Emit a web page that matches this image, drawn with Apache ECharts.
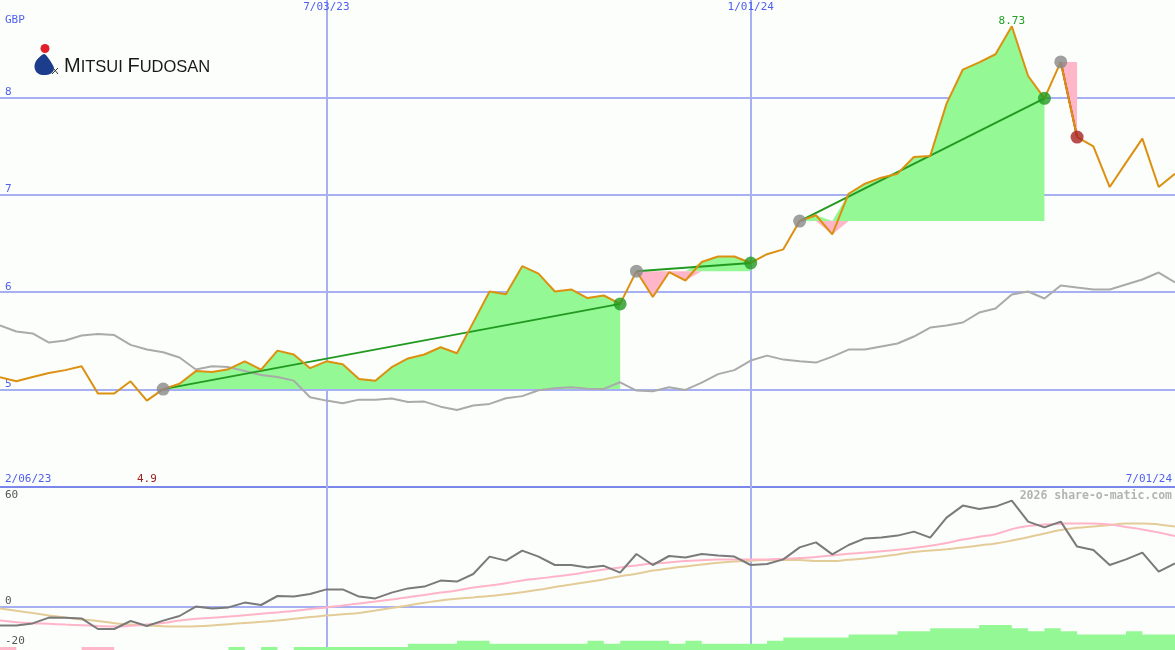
<!DOCTYPE html>
<html><head><meta charset="utf-8">
<script src="https://cdn.jsdelivr.net/npm/echarts@6/dist/echarts.min.js"></script>
<style>html,body{margin:0;padding:0;background:#fcfefc}#c{width:1175px;height:650px}</style>
</head><body><div id="c"></div>
<script>
// ---- data (weekly, Mondays) ----
const startDate = '2023-02-13';
const price = [5.126,5.085,5.13,5.17,5.20,5.24,4.96,4.96,5.085,4.887,
  5.005,5.06,5.19,5.18,5.21,5.29,5.205,5.40,5.36,5.22,
  5.29,5.26,5.11,5.09,5.23,5.32,5.36,5.435,5.373,5.69,
  6.007,5.98,6.267,6.19,6.007,6.028,5.94,5.966,5.88,6.216,
  5.95,6.205,6.12,6.31,6.367,6.367,6.30,6.39,6.44,6.73,
  6.79,6.593,7.011,7.114,7.176,7.217,7.388,7.398,7.936,8.286,
  8.36,8.443,8.73,8.22,7.99,8.364,7.593,7.497,7.08,7.33,
  7.577,7.08,7.217];
const relative = [5.658,5.596,5.576,5.483,5.504,5.555,5.572,5.56,5.459,5.411,
  5.383,5.329,5.206,5.24,5.231,5.19,5.149,5.13,5.092,4.921,
  4.887,4.859,4.897,4.897,4.908,4.872,4.877,4.825,4.791,4.836,
  4.853,4.911,4.933,4.993,5.015,5.024,5.01,5.007,5.075,4.99,
  4.983,5.024,4.997,5.072,5.159,5.2,5.298,5.349,5.308,5.291,
  5.277,5.339,5.411,5.411,5.442,5.473,5.545,5.637,5.658,5.689,
  5.791,5.832,5.976,6.007,5.935,6.069,6.048,6.028,6.028,6.079,
  6.13,6.202,6.1];
const oscillator = [-9.3,-9.3,-8.2,-5.3,-5.4,-5.7,-11,-11,-7,-9.5,
  -6.8,-4.5,0.2,-0.7,-0.2,2.2,1,5.5,5.2,6.5,
  8.8,8.8,5.2,4.3,7.2,9.3,10.2,13.2,12.7,16.5,
  25.2,23.2,28.2,25.2,21,21,19.8,20.6,17.2,26.5,
  21,25.5,24.7,26.5,25.7,25.2,21,21.5,23.8,29.8,
  32.3,26.3,31,34.3,34.8,35.7,37.7,34.7,44.7,50.7,
  49,50.2,53.2,42.7,39.8,42.7,30.2,28.5,21,23.8,
  27.2,17.7,21.8];
const signalFast = [-6.8,-7.6,-8.1,-8.4,-8.8,-9.1,-9.5,-9.8,-9.4,-8.7,
  -8.0,-6.8,-5.9,-5.4,-4.8,-4.1,-3.4,-2.7,-2.0,-1.0,
  -0.2,0.8,1.8,2.7,3.7,4.9,6.0,7.2,8.3,9.8,
  10.7,11.9,13.3,14.2,15.2,16.2,17.5,18.7,19.8,20.8,
  21.7,22.3,23.0,23.4,23.7,23.8,23.8,23.8,24.1,24.5,
  25.0,25.8,26.6,27.2,27.9,28.6,29.5,30.6,32.0,33.7,
  35.1,36.4,38.9,40.5,41.2,41.6,41.8,41.7,41.3,40.0,
  38.8,37.3,35.5];
const signalSlow = [-0.7,-1.9,-3.0,-4.2,-5.3,-6.2,-7.0,-8.1,-8.7,-9.3,
  -9.6,-9.8,-9.6,-9.2,-8.6,-8.0,-7.4,-6.7,-5.9,-5.0,
  -4.3,-3.6,-3.0,-1.8,-0.5,0.8,2.1,3.3,4.1,4.8,
  5.5,6.4,7.4,8.6,10.0,11.2,12.5,13.8,15.4,16.6,
  18.2,19.3,20.3,21.2,22.1,22.7,23.1,23.5,23.5,23.5,
  23.0,23.0,23.6,24.3,25.2,26.3,27.5,28.2,28.9,29.7,
  30.8,31.8,33.2,34.9,36.8,38.5,39.6,40.3,41.0,41.8,
  41.8,41.3,40.2];
const histogram = [-1,0,0,0,0,-1,-1,0,0,0,
  0,0,0,0,1,0,1,0,1,1,
  1,1,1,1,1,2,2,2,3,3,
  2,2,2,2,2,2,3,2,3,3,
  3,2,3,2,2,2,2,3,4,4,
  4,4,5,5,5,6,6,7,7,7,
  8,8,7,6,7,6,5,5,5,6,
  5,5,5];
const tradeEntry = [10, 39, 49, 65];
const tradeExit  = [38, 46, 64, 66];
const topTicks = ['7/03/23', '1/01/24'];
const rangeStartLabel = '2/06/23';
const priceTicks = [5, 6, 7, 8];
const oscTicks = [60, 0, -20];
const currency = 'GBP';
const brandBig = ['M', 'F'];
const brandSmall = ['ITSUI ', 'UDOSAN'];
const watermark = '2026 share-o-matic.com';

// ---- derived ----
const t0 = Date.parse(startDate + 'T00:00:00Z');
const weeks = price.map((_, i) => {
  const d = new Date(t0 + i * 7 * 86400000);
  return (d.getUTCMonth() + 1) + '/' + String(d.getUTCDate()).padStart(2, '0') + '/' + String(d.getUTCFullYear()).slice(2);
});
const last = price.length - 1;
let minIdx = 0;
price.forEach((p, i) => { if (p < price[minIdx]) minIdx = i; });

const BLUE = '#5060ee', GRID = '#a6b0f2', SEP = '#7a86ea';
const GREEN_FILL = '#94f894', PINK_FILL = '#ffb6c8';
const ORANGE = '#dc9010', GREY = '#aaaaaa';
const FONT = 'DejaVu Sans Mono';
const FS = 11;

const series = [];
tradeEntry.forEach((en, k) => {
  const ex = tradeExit[k], e = price[en];
  const inT = i => i >= en && i <= ex;
  const common = {type: 'line', xAxisIndex: 0, yAxisIndex: 0, symbol: 'none', silent: true, lineStyle: {width: 0}, z: 1};
  series.push(Object.assign({}, common, {stack: 'g' + k, data: price.map((p, i) => inT(i) ? e : null)}));
  series.push(Object.assign({}, common, {stack: 'g' + k, data: price.map((p, i) => inT(i) ? Math.max(p - e, 0) : null), areaStyle: {color: GREEN_FILL, opacity: 1}}));
  series.push(Object.assign({}, common, {stack: 'p' + k, data: price.map((p, i) => inT(i) ? Math.min(p, e) : null)}));
  series.push(Object.assign({}, common, {stack: 'p' + k, data: price.map((p, i) => inT(i) ? e - Math.min(p, e) : null), areaStyle: {color: PINK_FILL, opacity: 1}}));
});
series.push({type: 'line', xAxisIndex: 0, yAxisIndex: 0, data: relative, symbol: 'none', lineStyle: {color: GREY, width: 2}, z: 2});
tradeEntry.forEach((en, k) => {
  const ex = tradeExit[k];
  const win = price[ex] >= price[en];
  series.push({type: 'line', xAxisIndex: 0, yAxisIndex: 0, symbol: 'none',
    data: [[en, price[en]], [ex, price[ex]]],
    lineStyle: {color: win ? '#229a22' : '#a82222', width: 2}, z: 3});
});
series.push({type: 'line', xAxisIndex: 0, yAxisIndex: 0, data: price, symbol: 'none',
  lineStyle: {color: ORANGE, width: 2}, z: 4,
  markPoint: {symbol: 'circle', symbolSize: 1, itemStyle: {color: 'rgba(0,0,0,0)'},
    data: [{type: 'max'}],
    label: {show: true, position: 'top', distance: -1, color: '#22a022', fontFamily: FONT, fontSize: FS,
      formatter: p => Number(p.value).toFixed(2)}}});
series.push({type: 'scatter', xAxisIndex: 0, yAxisIndex: 0, symbolSize: 13, z: 5,
  itemStyle: {color: '#888888'}, data: tradeEntry.map(i => [i, price[i]])});
series.push({type: 'scatter', xAxisIndex: 0, yAxisIndex: 0, symbolSize: 13, z: 5,
  data: tradeExit.map((i, k) => ({value: [i, price[i]],
    itemStyle: {color: price[i] >= price[tradeEntry[k]] ? '#229a22' : '#a82222'}}))});
// lower panel
series.push({type: 'line', xAxisIndex: 1, yAxisIndex: 1, data: signalSlow, smooth: true, symbol: 'none', lineStyle: {color: '#e4cc98', width: 2}, z: 2});
series.push({type: 'line', xAxisIndex: 1, yAxisIndex: 1, data: signalFast, smooth: true, symbol: 'none', lineStyle: {color: '#ffb4c8', width: 2}, z: 2});
series.push({type: 'line', xAxisIndex: 1, yAxisIndex: 1, data: oscillator, symbol: 'none', lineStyle: {color: '#7a7a7a', width: 2}, z: 3});
series.push({type: 'line', xAxisIndex: 2, yAxisIndex: 2, step: 'end', symbol: 'none', lineStyle: {width: 0}, z: 6,
  data: histogram.map(v => Math.max(v, 0)), areaStyle: {color: GREEN_FILL, opacity: 1}});
series.push({type: 'line', xAxisIndex: 2, yAxisIndex: 2, step: 'end', symbol: 'none', lineStyle: {width: 0}, z: 6,
  data: histogram.map(v => Math.max(-v, 0)), areaStyle: {color: PINK_FILL, opacity: 1}});

const vLines = {show: true, interval: i => topTicks.includes(weeks[i]), lineStyle: {color: GRID, width: 2}};

const option = {
  backgroundColor: '#fcfefc',
  animation: false,
  textStyle: {fontFamily: FONT},
  grid: [
    {left: 0, right: 0, top: 0, height: 487},
    {left: 0, right: 0, top: 487, height: 160},
    {left: 0, right: 0, top: 600, height: 50}
  ],
  xAxis: [
    {gridIndex: 0, type: 'category', data: weeks, boundaryGap: false, position: 'top',
      axisLine: {show: false}, axisTick: {show: false}, splitLine: vLines,
      axisLabel: {inside: true, margin: 2, color: BLUE, fontSize: FS, fontFamily: FONT,
        interval: i => topTicks.includes(weeks[i])}},
    {gridIndex: 1, type: 'category', data: weeks, boundaryGap: false,
      axisLine: {show: false}, axisTick: {show: false}, axisLabel: {show: false}, splitLine: vLines},
    {gridIndex: 2, type: 'category', data: weeks, boundaryGap: false, show: false},
    {gridIndex: 0, type: 'category', data: weeks, boundaryGap: false, position: 'bottom',
      axisLine: {show: false}, axisTick: {show: false}, splitLine: {show: false},
      axisLabel: {inside: true, margin: 2, fontSize: FS, fontFamily: FONT,
        alignMinLabel: 'left', alignMaxLabel: 'right',
        interval: i => i === 0 || i === last || i === minIdx,
        formatter: (v, i) => i === 0 ? '{s|' + rangeStartLabel + '}' : (i === last ? '{e|' + v + '}' : '{m|' + price[minIdx].toFixed(1) + '}'),
        rich: {s: {color: BLUE, padding: [0, 0, 0, 5], fontSize: FS, fontFamily: FONT},
               e: {color: BLUE, padding: [0, 3, 0, 0], fontSize: FS, fontFamily: FONT},
               m: {color: '#a02020', fontSize: FS, fontFamily: FONT}}}}
  ],
  yAxis: [
    {gridIndex: 0, type: 'value', min: 4, max: 9, interval: 1,
      name: currency, nameLocation: 'end', nameGap: -26,
      nameTextStyle: {color: BLUE, fontSize: FS, fontFamily: FONT, align: 'left', verticalAlign: 'bottom', padding: [0, 0, 0, 5]},
      axisLine: {show: false}, axisTick: {show: false},
      axisLabel: {inside: true, margin: 5, color: BLUE, fontSize: FS, fontFamily: FONT, verticalAlign: 'bottom',
        formatter: v => priceTicks.includes(v) ? String(v) : ''},
      splitLine: {show: true, showMaxLine: false, lineStyle: {color: [SEP, GRID, GRID, GRID, GRID], width: 2}}},
    {gridIndex: 1, type: 'value', min: -20, max: 60, interval: 20,
      axisLine: {show: false}, axisTick: {show: false},
      axisLabel: {inside: true, margin: 5, color: '#555555', fontSize: FS, fontFamily: FONT,
        formatter: v => oscTicks.includes(v) ? (v === oscTicks[0] ? '{t|' + v + '}' : '{b|' + v + '}') : '',
        rich: {t: {padding: [16, 0, 0, 0], color: '#555555', fontSize: FS, fontFamily: FONT},
               b: {padding: [0, 0, 12, 0], color: '#555555', fontSize: FS, fontFamily: FONT}}},
      splitLine: {show: true, lineStyle: {color: ['rgba(0,0,0,0)', GRID, 'rgba(0,0,0,0)', 'rgba(0,0,0,0)', 'rgba(0,0,0,0)'], width: 2}}},
    {gridIndex: 2, type: 'value', min: 0, max: 16, show: false}
  ],
  graphic: [
    {type: 'circle', shape: {cx: 45, cy: 48.5, r: 4.5}, style: {fill: '#e0202a'}, z: 100},
    {type: 'polygon', shape: {smooth: 0.3, points: [[44,54],[39,57.5],[35.5,62],[34.5,67],[36,71.5],[40,74.5],[45,75],[50,74],[53,71.5],[54,68],[51,62],[47.5,57]]}, style: {fill: '#1c3c8c'}, z: 100},
    {type: 'line', shape: {x1: 52, y1: 74, x2: 58, y2: 68}, style: {stroke: '#333', lineWidth: 1}, z: 101},
    {type: 'line', shape: {x1: 54, y1: 69, x2: 58, y2: 74}, style: {stroke: '#333', lineWidth: 1}, z: 101},
    {type: 'text', x: 64, y: 76, z: 100, style: {
      text: '{b|' + brandBig[0] + '}{s|' + brandSmall[0] + '}{b|' + brandBig[1] + '}{s|' + brandSmall[1] + '}',
      verticalAlign: 'bottom',
      rich: {b: {fontFamily: 'Liberation Sans', fontSize: 20, fill: '#1a1a1a', verticalAlign: 'bottom'},
             s: {fontFamily: 'Liberation Sans', fontSize: 16.5, fill: '#1a1a1a', verticalAlign: 'bottom'}}}},
    {type: 'text', right: 3, top: 490, z: 100, style: {text: watermark, fontFamily: FONT, fontWeight: 'bold', fontSize: 11.5, fill: '#b3b3b3'}}
  ],
  series: series
};
echarts.init(document.getElementById('c')).setOption(option);
</script></body></html>
